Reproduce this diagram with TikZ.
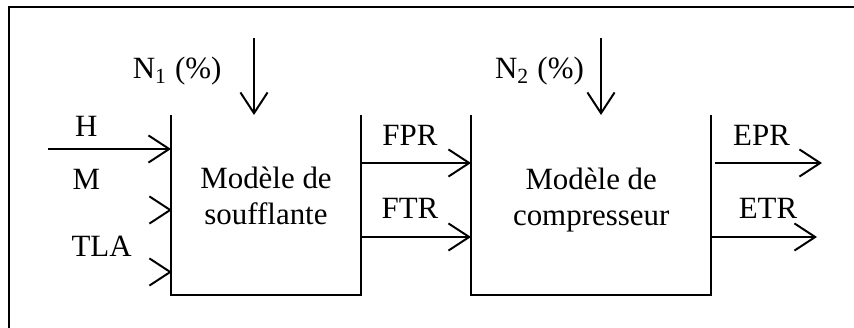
\documentclass[tikz,border=0pt]{standalone}
\usepackage{fontspec}
\setmainfont{Liberation Serif}
\usetikzlibrary{arrows.meta}

\begin{document}
\begin{tikzpicture}[line width=0.7pt,
        bloc/.style={minimum width=2.35cm, minimum height=2.225cm, inner sep=0pt},
        fl/.style={-{Straight Barb[length=0.26cm,width=0.34cm]}},
        lbl/.style={font=\fontsize{11}{13}\selectfont, inner sep=0pt}]
        \useasboundingbox (0,0) rectangle (10.675,4.1);
        % cadre
        \draw (0.11,0) -- (0.11,4.01) -- (10.675,4.01);
        % bloc soufflante
        \node[bloc] (fan) at (3.325,1.5375) {};
        \draw (fan.north west) -- (fan.south west) -- (fan.south east) -- (fan.north east);
        \node[lbl, align=center] (fantxt) at (3.325,1.65) {Modèle de\\soufflante};
        % bloc compresseur
        \node[bloc, minimum width=2.975cm] (cmp) at (7.3875,1.5375) {};
        \draw (cmp.north west) -- (cmp.south west) -- (cmp.south east) -- (cmp.north east);
        \node[lbl, align=center] (cmptxt) at (7.39,1.6) {Modèle de\\compresseur};
        % vitesses
        \coordinate (n1) at (3.175,3.625);
        \draw[fl] (n1) -- (n1 |- fan.north);
        \node[lbl, anchor=east] (n1txt) at (2.78,3.21) {N\textsubscript{1} (\%)};
        \coordinate (n2) at (7.5125,3.625);
        \draw[fl] (n2) -- (n2 |- cmp.north);
        \node[lbl, anchor=east] (n2txt) at (7.31,3.21) {N\textsubscript{2} (\%)};
        % entrees
        \coordinate (h) at (0.6,2.2375);
        \draw[fl] (h) -- (h -| fan.west);
        \node[lbl] (htxt) at (1.08,2.525) {H};
        \coordinate (m) at (2.15,1.475);
        \draw[fl] ([xshift=-0.1pt]m) -- (m);
        \node[lbl] (mtxt) at (1.08,1.8625) {M};
        \coordinate (tla) at (2.15,0.7);
        \draw[fl] ([xshift=-0.1pt]tla) -- (tla);
        \node[lbl] (tlatxt) at (1.27,1.02) {TLA};
        % liaisons
        \coordinate (fpr) at (4.5,2.0625);
        \draw[fl] (fpr) -- (fpr -| cmp.west);
        \node[lbl] (fprtxt) at (5.125,2.4125) {FPR};
        \coordinate (ftr) at (4.5,1.1375);
        \draw[fl] (ftr) -- (ftr -| cmp.west);
        \node[lbl] (ftrtxt) at (5.125,1.5) {FTR};
        % sorties
        \coordinate (epr1) at (8.94,2.0625);
        \coordinate (epr2) at (10.275,2.0625);
        \draw[fl] (epr1) -- (epr2);
        \node[lbl] (eprtxt) at (9.52,2.4125) {EPR};
        \coordinate (etr1) at (8.875,1.1375);
        \coordinate (etr2) at (10.2125,1.1375);
        \draw[fl] (etr1) -- (etr2);
        \node[lbl] (etrtxt) at (9.6,1.49) {ETR};
    \end{tikzpicture}
\end{document}
